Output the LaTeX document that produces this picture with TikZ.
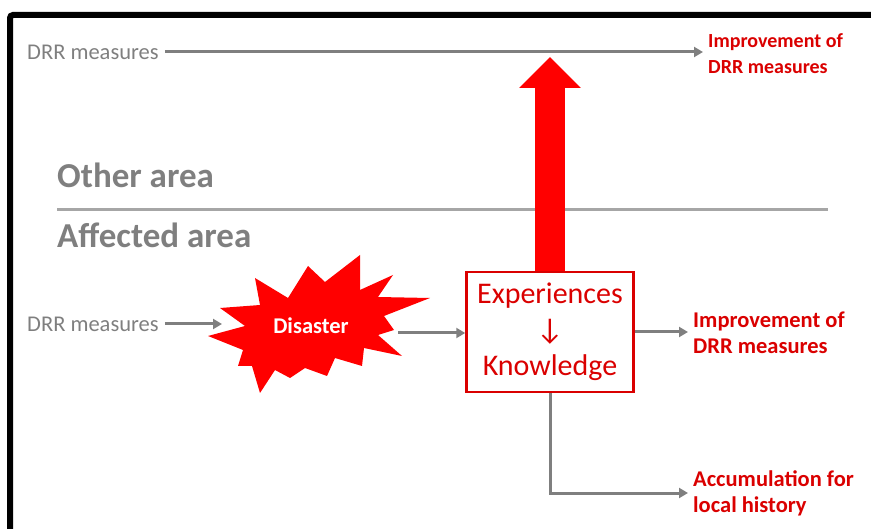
\documentclass[tikz,border=0pt]{standalone}
\usepackage{fontspec}
\setmainfont{Carlito}
\usetikzlibrary{arrows.meta}
\definecolor{txtgray}{RGB}{127,127,127}
\definecolor{linegray}{RGB}{166,166,166}
\definecolor{hotred}{RGB}{255,0,0}
\definecolor{labred}{RGB}{218,0,0}
\begin{document}
\begin{tikzpicture}[x=1pt,y=-1pt, every node/.style={inner sep=0pt},
  graylbl/.style={text=txtgray,font=\fontsize{22.5}{26}\selectfont,anchor=west,inner xsep=6pt},
  redlbl/.style={text=labred,font=\bfseries\fontsize{22.5}{26}\selectfont,anchor=west,align=left,inner xsep=5pt},
  area/.style={text=txtgray,font=\bfseries\fontsize{35}{40}\selectfont,anchor=base west},
  flow/.style={draw=txtgray,line width=3pt,-{Triangle[length=9pt,width=10pt]}}]
\useasboundingbox (0,0) rectangle (871,529);
% frame
\draw[line width=6pt,rounded corners=3pt] (10,535) -- (10,15) -- (878,15);
% other area
\node[graylbl] (drrtop) at (21,52) {DRR measures};
\node[redlbl,font=\bfseries\fontsize{20}{26}\selectfont] (imptop) at (703,54) {Improvement of\\DRR measures};
\draw[flow] (drrtop.east) -- (drrtop.east -| imptop.west);
\node[area] (other) at (57,188) {Other area};
\draw[linegray,line width=3pt] (57,210) -- (828,210);
\node[area] (affected) at (57,248) {Affected area};
% affected area
\node[graylbl] (drrmid) at (21,324) {DRR measures};
\fill[hotred] (208,336) -- (245,326) -- (220,308) -- (260,305) -- (255,278) -- (288,298)
  -- (308,266) -- (325,282) -- (360,255) -- (360,290) -- (393,275) -- (378,297)
  -- (430,298) -- (384,316) -- (394,330) -- (378,335) -- (402,356) -- (364,348)
  -- (362,366) -- (335,358) -- (327,376) -- (305,368) -- (290,378) -- (275,370)
  -- (260,393) -- (252,366) -- (238,366) -- (243,350) -- cycle;
\node[text=white,font=\bfseries\fontsize{22.5}{24}\selectfont] (disaster) at (311,326) {Disaster};
\coordinate (burstin) at (222,323);
\coordinate (burstout) at (398,333);
\node[draw=labred,line width=2.5pt,minimum width=167pt,minimum height=120pt,align=center,
  text=labred,font=\fontsize{30}{36}\selectfont] (exp) at (550,332) {Experiences\\↓\\Knowledge};
\coordinate (tiptop) at (550,57);
\draw[hotred,line width=30pt,-{Triangle[length=31pt,width=60pt]}] (exp.north) -- (tiptop);
\node[redlbl] (impmid) at (688,333) {Improvement of\\DRR measures};
\node[redlbl] (acc) at (688,493) {Accumulation for\\local history};
\draw[flow] (drrmid.east) -- (drrmid.east -| burstin);
\draw[flow] (burstout) -- (burstout -| exp.west);
\draw[flow] (exp.east) -- (exp.east -| impmid.west);
\draw[flow] (exp.south) |- (acc.west);
\end{tikzpicture}
\end{document}
